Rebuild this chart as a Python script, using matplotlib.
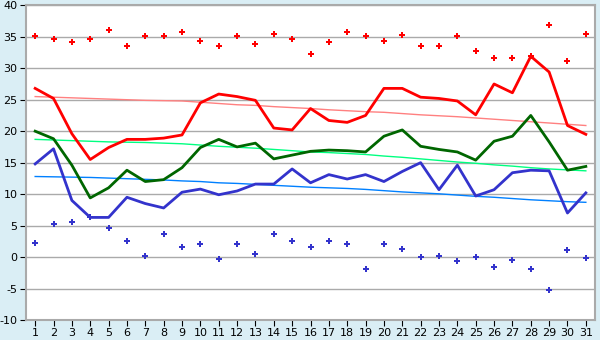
import numpy as np
import matplotlib
matplotlib.use("Agg")
import matplotlib.pyplot as plt

plt.rcParams['axes.unicode_minus'] = False

# days of the month
days = np.arange(1, 32)

# daily max / mean / min temperature
t_max = [26.8, 25.2, 19.6, 15.5, 17.4, 18.7, 18.7, 18.9, 19.4, 24.5, 25.9, 25.5, 24.9, 20.5, 20.2, 23.6,
         21.7, 21.4, 22.5, 26.8, 26.8, 25.4, 25.2, 24.8, 22.6, 27.5, 26.1, 31.9, 29.4, 20.9, 19.5]
t_mean = [20.0, 18.8, 14.6, 9.4, 11.0, 13.8, 12.0, 12.3, 14.2, 17.4, 18.7, 17.5, 18.1, 15.6, 16.2, 16.8,
          17.0, 16.9, 16.7, 19.2, 20.2, 17.6, 17.1, 16.7, 15.4, 18.4, 19.2, 22.5, 18.3, 13.8, 14.4]
t_min = [14.8, 17.2, 9.0, 6.3, 6.3, 9.5, 8.5, 7.8, 10.3, 10.8, 9.9, 10.5, 11.6, 11.6, 14.0, 11.8,
         13.1, 12.4, 13.1, 12.0, 13.6, 15.0, 10.7, 14.6, 9.7, 10.7, 13.4, 13.8, 13.7, 7.0, 10.2]

# long-term normals (thin lines)
norm_max = [25.5, 25.4, 25.3, 25.2, 25.1, 25.0, 24.9, 24.85, 24.8, 24.6, 24.4, 24.2, 24.1, 23.9, 23.75, 23.6,
            23.4, 23.25, 23.1, 23.0, 22.8, 22.6, 22.45, 22.3, 22.1, 21.9, 21.7, 21.5, 21.3, 21.1, 20.9]
norm_mean = [18.7, 18.6, 18.5, 18.4, 18.3, 18.25, 18.2, 18.1, 18.0, 17.8, 17.6, 17.45, 17.3, 17.1, 16.9, 16.7,
             16.6, 16.45, 16.3, 16.05, 15.85, 15.6, 15.35, 15.1, 14.9, 14.65, 14.45, 14.2, 14.0, 13.85, 13.7]
norm_min = [12.8, 12.75, 12.7, 12.65, 12.55, 12.45, 12.35, 12.25, 12.1, 12.0, 11.8, 11.7, 11.55, 11.4, 11.25, 11.1,
            11.0, 10.9, 10.75, 10.55, 10.35, 10.2, 10.05, 9.85, 9.65, 9.5, 9.3, 9.1, 8.95, 8.8, 8.7]

# record highs / lows
rec_max = [35.1, 34.6, 34.1, 34.6, 36.1, 33.6, 35.1, 35.1, 35.7, 34.3, 33.6, 35.2, 33.8, 35.5, 34.6, 32.2,
           34.1, 35.7, 35.1, 34.4, 35.3, 33.5, 33.6, 35.1, 32.8, 31.6, 31.6, 31.9, 36.8, 31.1, 35.5]
rec_min = [2.2, 5.2, 5.5, 6.3, 4.6, 2.5, 0.2, 3.6, 1.6, 2.1, -0.3, 2.0, 0.5, 3.6, 2.5, 1.6,
           2.6, 2.0, -1.9, 2.1, 1.3, 0.0, 0.2, -0.6, 0.0, -1.5, -0.4, -1.9, -5.2, 1.1, -0.1]

fig = plt.figure(figsize=(6, 3.4), dpi=100, facecolor='#daeef5')
ax = fig.add_axes([0.0433, 0.0588, 0.9484, 0.9256])
ax.set_facecolor('white')

ax.grid(True, axis='y', color='#aaaaaa', linewidth=1)
ax.set_axisbelow(True)

# normals
ax.plot(days, norm_max, color='#ff8080', linewidth=1)
ax.plot(days, norm_mean, color='#00ff80', linewidth=1)
ax.plot(days, norm_min, color='#0080ff', linewidth=1)

# daily series
ax.plot(days, t_max, color='#ff0000', linewidth=2)
ax.plot(days, t_mean, color='#006600', linewidth=2)
ax.plot(days, t_min, color='#3333cc', linewidth=2)

# records
ax.plot(days, rec_max, linestyle='none', marker='P', markersize=5, color='#ff0000', markeredgewidth=0)
ax.plot(days, rec_min, linestyle='none', marker='P', markersize=5, color='#3333cc', markeredgewidth=0)

ax.set_xlim(0.5, 31.5)
ax.set_ylim(-10, 40)
ax.set_xticks(days)
ax.set_yticks(np.arange(-10, 41, 5))

for s in ax.spines.values():
    s.set_color('#aaaaaa')
    s.set_linewidth(1.5)

ax.tick_params(axis='both', labelsize=8, length=4, color='black', pad=2)

fig.savefig('out.png', dpi=100, facecolor=fig.get_facecolor())
